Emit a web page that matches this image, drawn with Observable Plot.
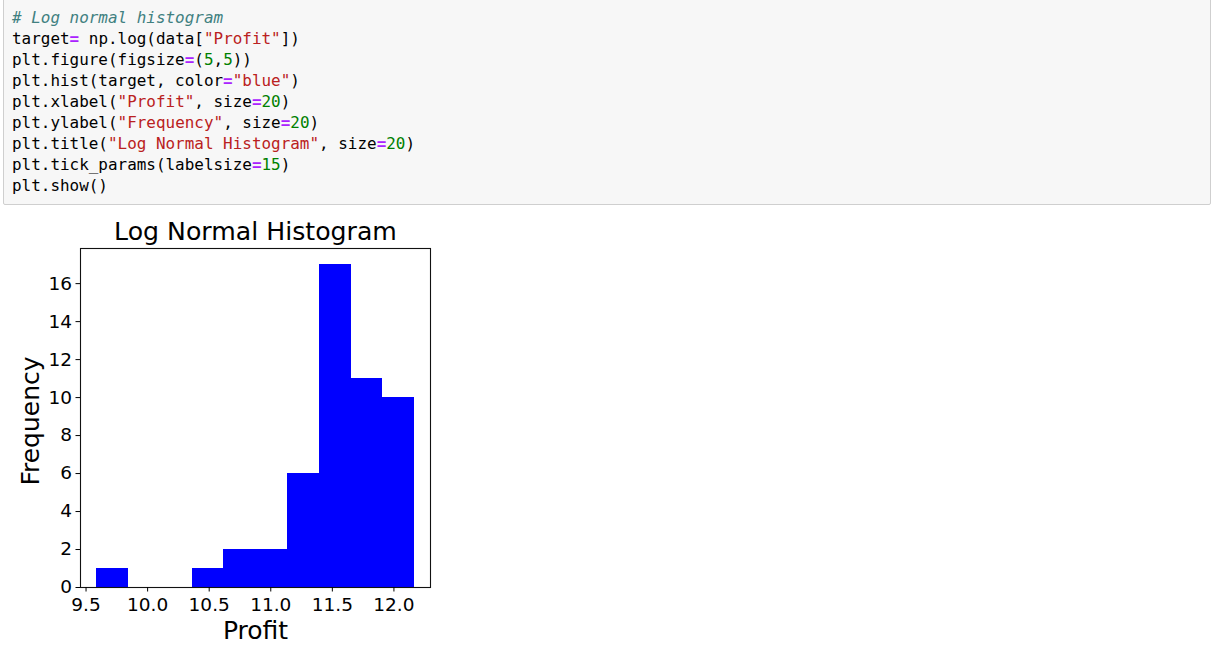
<!DOCTYPE html>
<html>
<head>
<meta charset="utf-8">
<script src="https://cdn.jsdelivr.net/npm/d3@7"></script>
<script src="https://cdn.jsdelivr.net/npm/@observablehq/plot@0.6"></script>
<style>
html, body { margin: 0; padding: 0; background: #fff; width: 1222px; height: 659px; overflow: hidden; }
.cell { position: absolute; left: 3px; top: -6px; width: 1208px; height: 211px; background: #f7f7f7; border: 1px solid #cfcfcf; border-radius: 2px; box-sizing: border-box; }
.code { position: absolute; left: 12px; top: 7px; margin: 0; font-family: "DejaVu Sans Mono", monospace; font-size: 15.95px; line-height: 21px; color: #000; }
.code div { white-space: pre; height: 21px; }
.cm-c { color: #408080; font-style: italic; }
.cm-o { color: #AA22FF; font-weight: bold; }
.cm-s { color: #BA2121; }
.cm-n { color: #008000; }
#chart { position: absolute; left: 0; top: 205px; }
</style>
</head>
<body>
<div class="cell"></div>
<div class="code">
<div><span class="cm-c"># Log normal histogram</span></div>
<div><span>target</span><span class="cm-o">=</span><span> np.log(data[</span><span class="cm-s">"Profit"</span><span>])</span></div>
<div><span>plt.figure(figsize</span><span class="cm-o">=</span><span>(</span><span class="cm-n">5</span><span>,</span><span class="cm-n">5</span><span>))</span></div>
<div><span>plt.hist(target, color</span><span class="cm-o">=</span><span class="cm-s">"blue"</span><span>)</span></div>
<div><span>plt.xlabel(</span><span class="cm-s">"Profit"</span><span>, size</span><span class="cm-o">=</span><span class="cm-n">20</span><span>)</span></div>
<div><span>plt.ylabel(</span><span class="cm-s">"Frequency"</span><span>, size</span><span class="cm-o">=</span><span class="cm-n">20</span><span>)</span></div>
<div><span>plt.title(</span><span class="cm-s">"Log Normal Histogram"</span><span>, size</span><span class="cm-o">=</span><span class="cm-n">20</span><span>)</span></div>
<div><span>plt.tick_params(labelsize</span><span class="cm-o">=</span><span class="cm-n">15</span><span>)</span></div>
<div><span>plt.show()</span></div>
</div>
<div id="chart"></div>
<script>
const binEdges = [9.587, 9.845, 10.103, 10.361, 10.619, 10.878, 11.136, 11.394, 11.652, 11.910, 12.168];
const counts = [1, 0, 0, 1, 2, 2, 6, 17, 11, 10];
const xTicks = [9.5, 10.0, 10.5, 11.0, 11.5, 12.0];
const yTicks = [0, 2, 4, 6, 8, 10, 12, 14, 16];
const titleText = "Log Normal Histogram";
const xLabel = "Profit";
const yLabel = "Frequency";

const bins = counts.map((c, i) => ({x1: binEdges[i], x2: binEdges[i + 1], count: c}));

const chart = Plot.plot({
  width: 450,
  height: 454,
  marginLeft: 80,
  marginRight: 20,
  marginTop: 43,
  marginBottom: 72,
  style: {fontFamily: '"DejaVu Sans", sans-serif', fontSize: "18.5px", color: "#000", background: "transparent"},
  x: {domain: [9.455, 12.297]},
  y: {domain: [0, 17.85]},
  marks: [
    Plot.rect(bins, {filter: d => d.count > 0, x1: "x1", x2: "x2", y1: 0, y2: "count", fill: "blue", inset: 0, shapeRendering: "crispEdges"}),
    Plot.frame({stroke: "#111", strokeWidth: 1.1}),
    Plot.axisX({ticks: xTicks, tickFormat: d => d.toFixed(1), tickSize: 4.5, tickPadding: 5.5, label: null, fontSize: 18.5}),
    Plot.axisY({ticks: yTicks, tickSize: 4.5, tickPadding: 4, label: null, fontSize: 18.5}),
    Plot.text([titleText], {text: d => d, frameAnchor: "top", textAnchor: "middle", lineAnchor: "bottom", dy: -8.5, fontSize: 25.2}),
    Plot.text([xLabel], {text: d => d, frameAnchor: "bottom", textAnchor: "middle", lineAnchor: "bottom", dy: 51.5, fontSize: 25}),
    Plot.text([yLabel], {text: d => d, frameAnchor: "left", textAnchor: "middle", lineAnchor: "bottom", rotate: -90, dx: -41.5, dy: 3, fontSize: 25})
  ]
});
document.getElementById("chart").appendChild(chart);
</script>
</body>
</html>
